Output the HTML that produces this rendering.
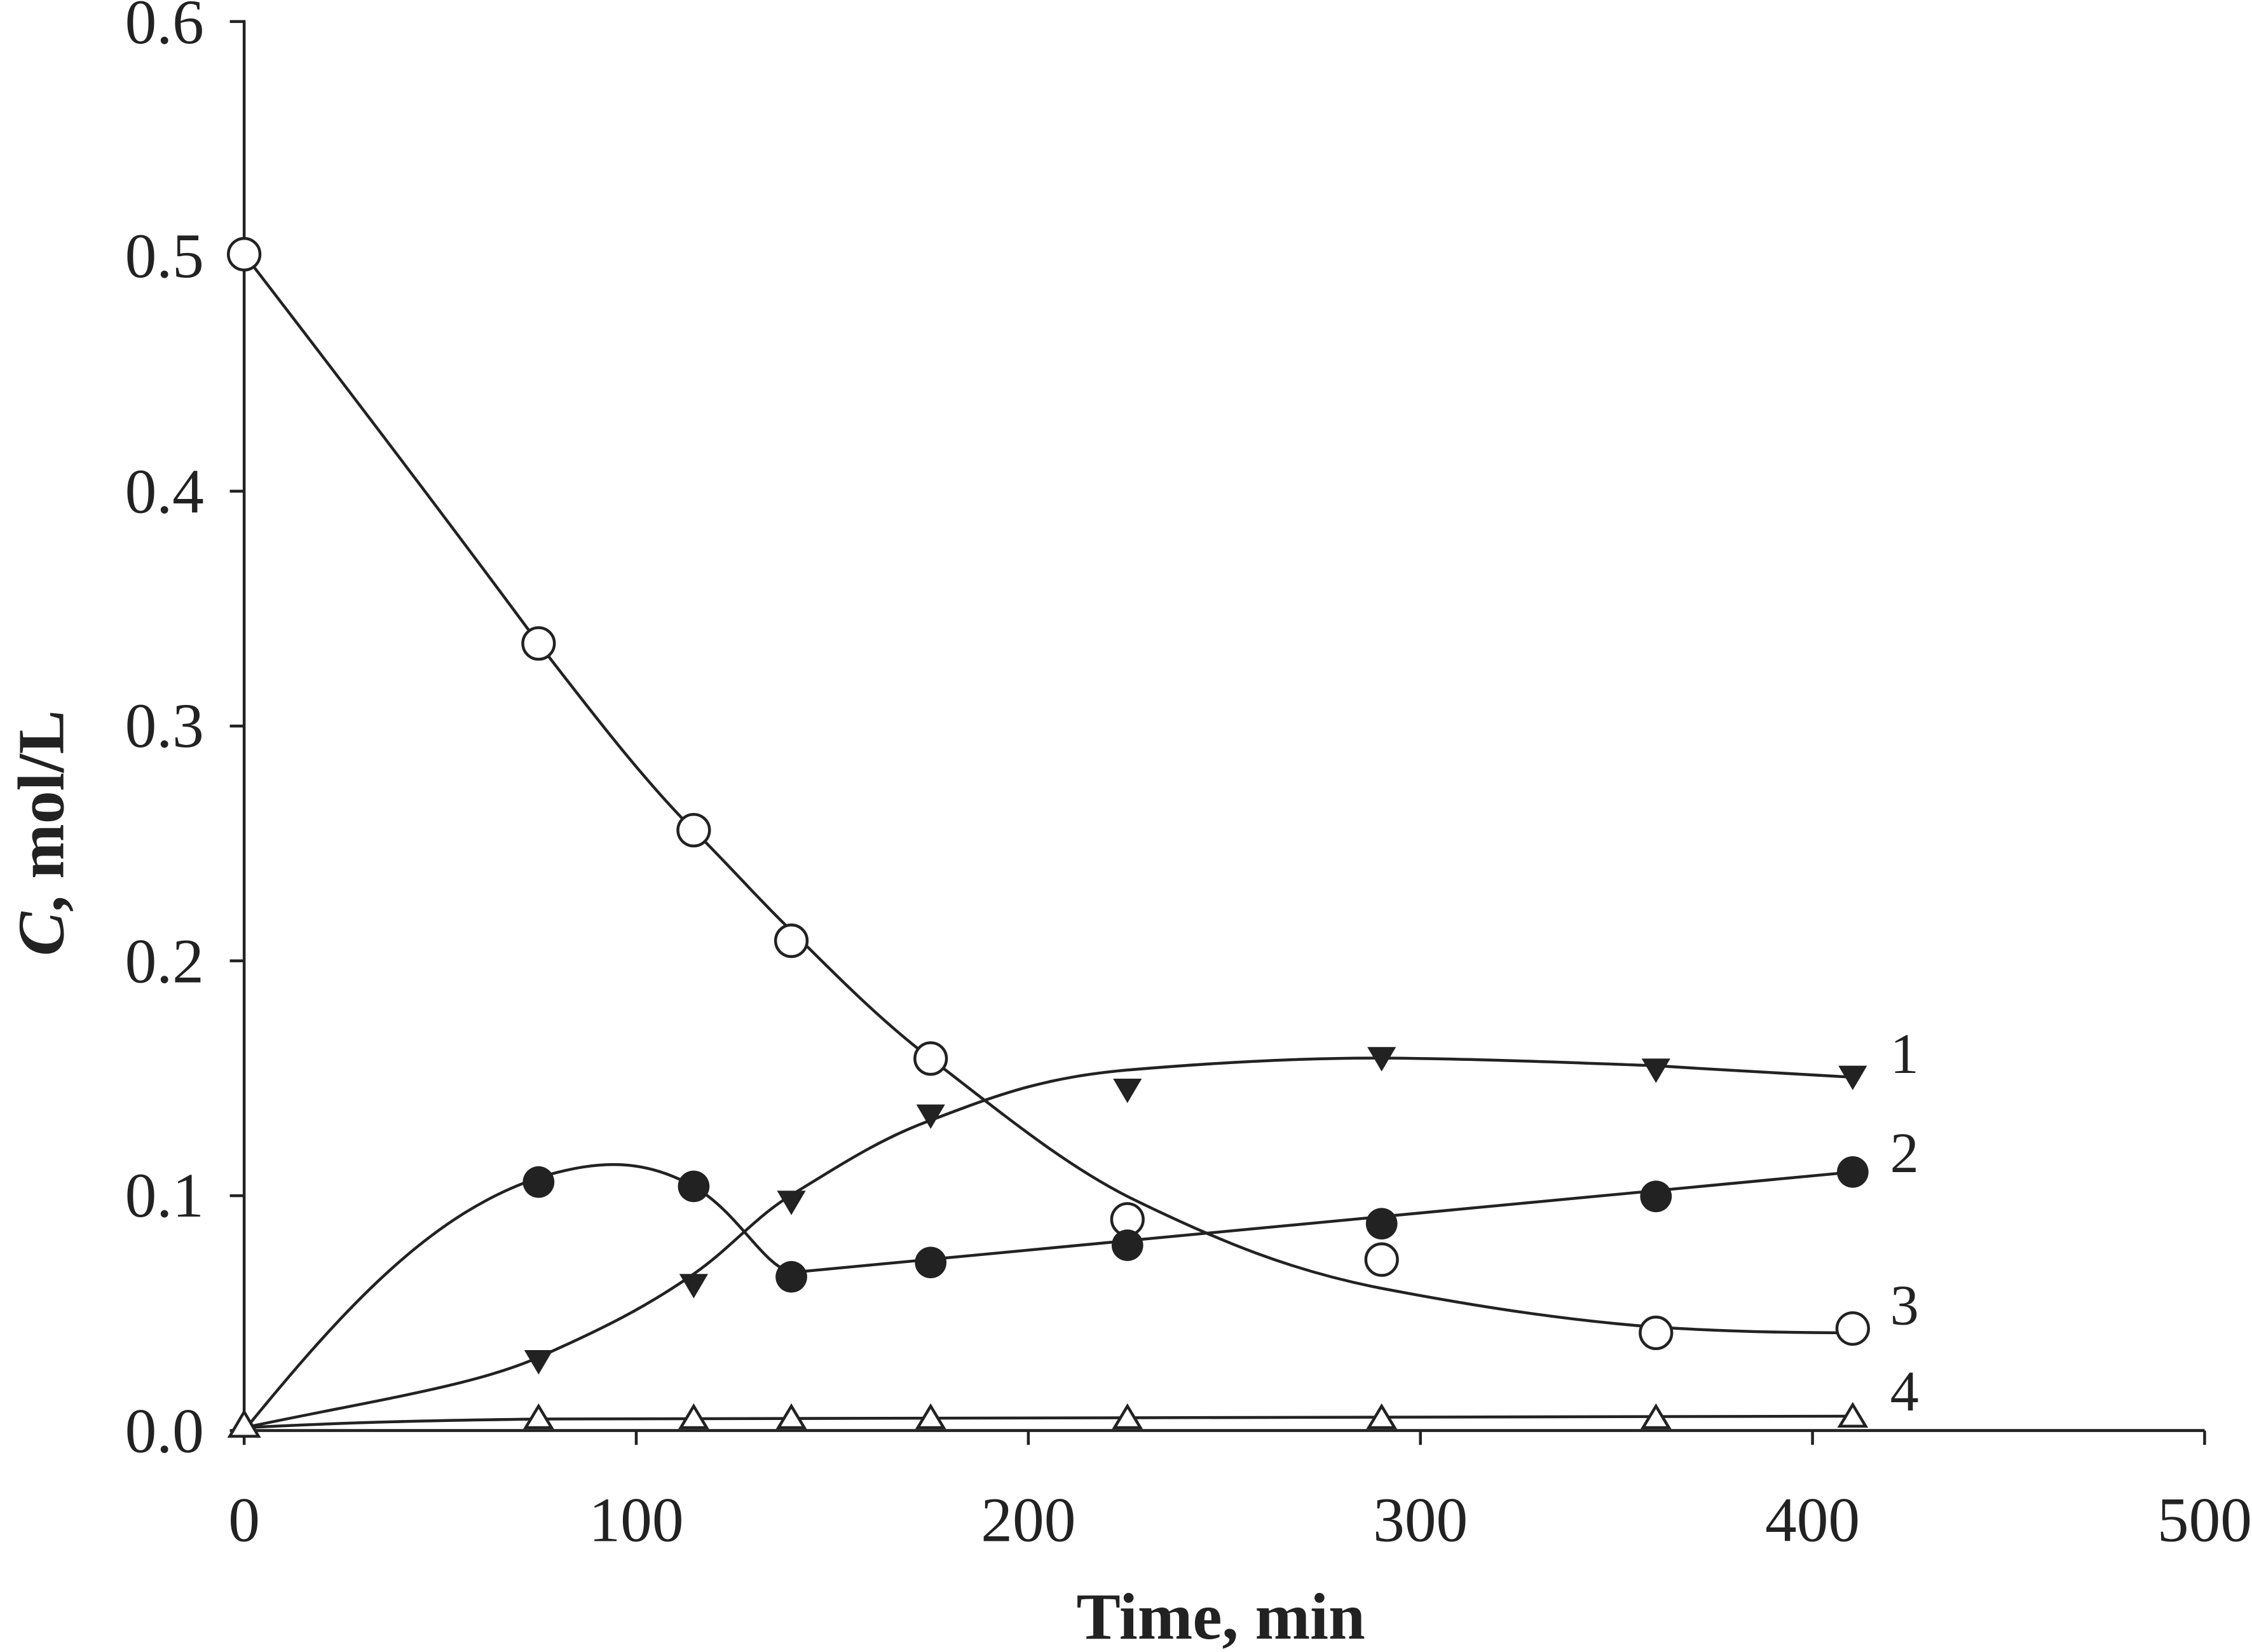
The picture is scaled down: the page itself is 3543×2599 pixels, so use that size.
<!DOCTYPE html>
<html><head><meta charset="utf-8"><style>
html,body{margin:0;padding:0;background:#fff;}
svg{display:block;}
text{font-family:"Liberation Serif",serif;fill:#222;}
</style></head><body>
<svg width="3543" height="2599" viewBox="0 0 1568 1150.2" preserveAspectRatio="none" xmlns="http://www.w3.org/2000/svg">
<g stroke="#222" stroke-width="2" fill="none">
<line x1="170" y1="14" x2="170" y2="996"/>
<line x1="170" y1="996" x2="1535" y2="996"/>
<line x1="160" y1="15" x2="170" y2="15"/>
<line x1="160" y1="178.5" x2="170" y2="178.5"/>
<line x1="160" y1="342" x2="170" y2="342"/>
<line x1="160" y1="505.5" x2="170" y2="505.5"/>
<line x1="160" y1="669" x2="170" y2="669"/>
<line x1="160" y1="832.5" x2="170" y2="832.5"/>
<line x1="160" y1="996" x2="170" y2="996"/>
<line x1="170" y1="996" x2="170" y2="1006"/>
<line x1="443" y1="996" x2="443" y2="1006"/>
<line x1="716" y1="996" x2="716" y2="1006"/>
<line x1="989" y1="996" x2="989" y2="1006"/>
<line x1="1262" y1="996" x2="1262" y2="1006"/>
<line x1="1535" y1="996" x2="1535" y2="1006"/>
<path d="M170,177 C240,268 310,360 375,448 C415,500 450,545 483,578 C510,605 530,628 551,648 C585,682 615,712 648,737 C700,777 740,810 785,833 C850,865 900,885 962,897 C1040,912 1100,920 1153,924 C1200,927 1250,928 1290,928"/>
<path d="M170,996 C240,910 300,845 375,820 C420,806 450,808 483,826 C515,845 530,880 551,886 L1290,816"/>
<path d="M170,994 C260,975 330,965 375,945 C420,925 450,910 483,887 C510,868 525,848 551,832 C590,808 615,792 648,780 C700,760 730,750 785,745 C880,737 940,736 990,737 C1060,738 1120,741 1153,742 C1200,745 1250,748 1290,750"/>
<path d="M170,994 C250,990 300,989 375,988 L1290,986"/>
</g>
<g stroke="#222" stroke-width="2" fill="#fff">
<circle cx="170" cy="177" r="11"/><circle cx="375" cy="448" r="11"/><circle cx="483" cy="578" r="11"/>
<circle cx="551" cy="655" r="11"/><circle cx="648" cy="737" r="11"/><circle cx="785" cy="849" r="11"/>
<circle cx="962" cy="877" r="11"/><circle cx="1153" cy="928" r="11"/><circle cx="1290" cy="925" r="11"/>
</g>
<g fill="#222">
<circle cx="375" cy="823" r="11"/><circle cx="483" cy="826" r="11"/><circle cx="551" cy="889" r="11"/>
<circle cx="648" cy="879" r="11"/><circle cx="785" cy="867" r="11"/><circle cx="962" cy="852" r="11"/>
<circle cx="1153" cy="833" r="11"/><circle cx="1290" cy="816" r="11"/>
</g>
<g fill="#222">
<path d="M365,940 h20 l-10,17z"/><path d="M473,887 h20 l-10,17z"/><path d="M541,829 h20 l-10,17z"/>
<path d="M638,769 h20 l-10,17z"/><path d="M775,751 h20 l-10,17z"/><path d="M952,729 h20 l-10,17z"/>
<path d="M1143,737 h20 l-10,17z"/><path d="M1280,742 h20 l-10,17z"/>
</g>
<g stroke="#222" stroke-width="2" fill="#fff">
<path d="M160,1000 h20 l-10,-17z"/>
<path d="M366,994 h18 l-9,-15z"/><path d="M474,994 h18 l-9,-15z"/><path d="M542,994 h18 l-9,-15z"/>
<path d="M639,994 h18 l-9,-15z"/><path d="M776,994 h18 l-9,-15z"/><path d="M953,994 h18 l-9,-15z"/>
<path d="M1144,994 h18 l-9,-15z"/><path d="M1281,993 h18 l-9,-15z"/>
</g>
<g font-size="44" text-anchor="end">
<text x="142" y="30">0.6</text><text x="142" y="193">0.5</text><text x="142" y="357">0.4</text>
<text x="142" y="520">0.3</text><text x="142" y="684">0.2</text><text x="142" y="847">0.1</text>
<text x="142" y="1011">0.0</text>
</g>
<g font-size="44" text-anchor="middle">
<text x="170" y="1073">0</text><text x="443" y="1073">100</text><text x="716" y="1073">200</text>
<text x="989" y="1073">300</text><text x="1262" y="1073">400</text><text x="1535" y="1073">500</text>
</g>
<g font-size="40">
<text x="1316" y="747">1</text><text x="1316" y="816">2</text><text x="1316" y="922">3</text><text x="1316" y="982">4</text>
</g>
<text x="850" y="1141" font-size="46" font-weight="bold" text-anchor="middle">Time, min</text>
<text transform="translate(44,580) rotate(-90)" font-size="46" font-weight="bold" text-anchor="middle"><tspan font-style="italic">C</tspan>, mol/L</text>
</svg>
</body></html>
